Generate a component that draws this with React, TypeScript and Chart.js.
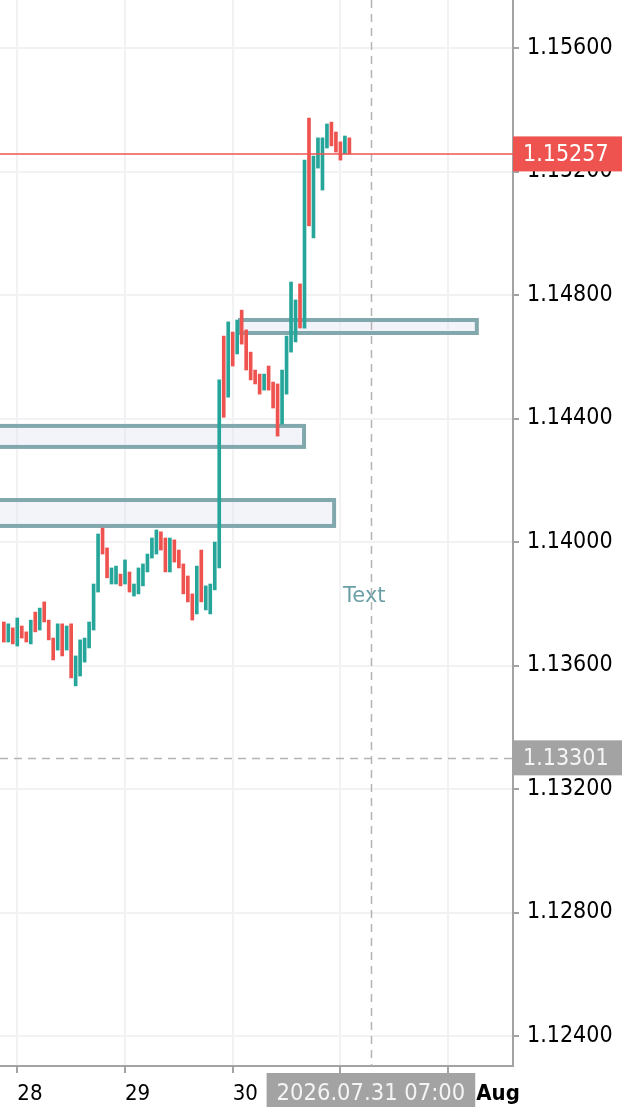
import { useEffect, useRef } from 'react';
import { Chart, registerables } from 'chart.js';

Chart.register(...registerables);

// Hour offsets from 28 July 00:00 (hourly bars)
const barHours = [
  -3, -2, -1, 0, 1, 2, 3, 4, 5, 6, 7, 8, 9, 10, 11, 12, 13, 14, 15, 16, 17, 18, 19, 20, 21, 22, 23,
  24, 25, 26, 27, 28, 29, 30, 31, 32, 33, 34, 35, 36, 37, 38, 39, 40, 41, 42, 43, 44, 45, 46, 47,
  48, 49, 50, 51, 52, 53, 54, 55, 56, 57, 58, 59, 60, 61, 62, 63, 64, 65, 66, 67, 68, 69, 70, 71,
  72, 73, 74,
];

const barLow = [
  1.13676, 1.13676, 1.1367, 1.13663, 1.13689, 1.13676, 1.1367, 1.13709, 1.13715, 1.13741, 1.13683,
  1.13618, 1.1365, 1.13631, 1.1365, 1.1356, 1.13534, 1.13566, 1.13611, 1.13657, 1.13715, 1.13838,
  1.13961, 1.13884, 1.13864, 1.13864, 1.13858, 1.13864, 1.13838, 1.13825, 1.13832, 1.13858, 1.13903,
  1.13948, 1.13961, 1.13974, 1.13903, 1.13903, 1.13935, 1.13916, 1.13832, 1.13806, 1.13747, 1.13767,
  1.13806, 1.1378, 1.13767, 1.13845, 1.13916, 1.14404, 1.14469, 1.1457, 1.14609, 1.14641, 1.14557,
  1.14525, 1.14512, 1.14479, 1.14492, 1.14492, 1.14434, 1.14343, 1.14382, 1.14479, 1.14615, 1.14648,
  1.14693, 1.14693, 1.15024, 1.14985, 1.15211, 1.1514, 1.15276, 1.15283, 1.15263, 1.15237, 1.15257,
  1.15257,
];

const barHigh = [
  1.13741, 1.13735, 1.13722, 1.13754, 1.13728, 1.13709, 1.13747, 1.13773, 1.13786, 1.13806, 1.13747,
  1.13689, 1.13735, 1.13735, 1.13728, 1.13735, 1.13631, 1.13683, 1.13689, 1.13741, 1.13864, 1.14026,
  1.14045, 1.13981, 1.13916, 1.13922, 1.13896, 1.13942, 1.13903, 1.13864, 1.13916, 1.13929, 1.13961,
  1.14013, 1.14039, 1.14033, 1.14013, 1.14013, 1.14007, 1.13974, 1.13929, 1.1389, 1.13832, 1.13922,
  1.13974, 1.13858, 1.13864, 1.14, 1.14525, 1.14667, 1.14713, 1.1468, 1.14719, 1.14751, 1.14687,
  1.14615, 1.14557, 1.14544, 1.14544, 1.1457, 1.14518, 1.14512, 1.14557, 1.14667, 1.14842, 1.14784,
  1.14836, 1.15237, 1.15373, 1.1525, 1.15309, 1.15309, 1.15354, 1.1536, 1.15328, 1.15296, 1.15315,
  1.15309,
];

// 1 = rising bar (green), 0 = falling bar (red)
const barUp = [
  0, 1, 0, 1, 0, 0, 1, 0, 1, 0, 0, 0, 1, 0, 1, 0, 1, 1, 1, 1, 1, 1, 0, 0, 1, 1, 0, 1, 0, 1, 1, 1, 1,
  1, 1, 0, 0, 1, 0, 0, 0, 0, 0, 1, 0, 1, 1, 1, 1, 0, 1, 0, 1, 0, 0, 0, 0, 0, 1, 0, 0, 0, 1, 1, 1, 1,
  0, 1, 0, 1, 1, 1, 1, 0, 0, 0, 1, 0,
];

// Day axis
const dayTicks = [0, 24, 48, 72, 96];
const dayLabels = ['28', '29', '30', '', ''];
const monthLabel = 'Aug';

// Price axis
const priceMin = 1.123029;
const priceMax = 1.157555;
const priceStep = 0.004;
const hourMin = -3.855;
const hourMax = 110.46;

// Rectangle zones
const zoneFrom = [49.63, -10, -10];
const zoneTo = [102.4, 63.9, 70.6];
const zoneHigh = [1.14719, 1.14376, 1.14136];
const zoneLow = [1.14677, 1.14308, 1.14052];

// Markers
const lastPrice = 1.15257;
const crossPrice = 1.13301;
const crossHour = 78.8;
const crossTimeLabel = '2026.07.31 07:00';
const noteText = 'Text';
const noteHour = 72.6;
const notePrice = 1.13806;

const GREEN = '#26a69a';
const RED = '#ef5350';
const GRID = '#f2f2f5';
const AXIS = '#a3a3a3';
const FAM = "'DejaVu Sans Condensed', 'DejaVu Sans', sans-serif";

const overlayPlugin = {
  id: 'overlay',
  beforeDatasetsDraw(chart: any) {
    const { ctx, chartArea: a, scales } = chart;
    const x = scales.x;
    const y = scales.y;
    ctx.save();
    ctx.beginPath();
    ctx.rect(a.left, a.top, a.right - a.left, a.bottom - a.top);
    ctx.clip();
    for (let i = 0; i < zoneFrom.length; i++) {
      const x1 = x.getPixelForValue(zoneFrom[i]);
      const x2 = x.getPixelForValue(zoneTo[i]);
      const y1 = y.getPixelForValue(zoneHigh[i]);
      const y2 = y.getPixelForValue(zoneLow[i]);
      ctx.fillStyle = 'rgba(225,225,242,0.4)';
      ctx.fillRect(x1, y1, x2 - x1, y2 - y1);
      ctx.strokeStyle = '#80a8ad';
      ctx.lineWidth = 4;
      ctx.strokeRect(x1, y1, x2 - x1, y2 - y1);
    }
    ctx.restore();
  },
  afterDatasetsDraw(chart: any) {
    const { ctx, chartArea: a, scales } = chart;
    const x = scales.x;
    const y = scales.y;
    ctx.save();
    ctx.beginPath();
    ctx.rect(a.left, a.top, a.right - a.left, a.bottom - a.top);
    ctx.clip();
    // note text
    ctx.fillStyle = '#6a9fa6';
    ctx.font = `21px 'DejaVu Sans', sans-serif`;
    ctx.textBaseline = 'alphabetic';
    ctx.textAlign = 'left';
    ctx.fillText(noteText, x.getPixelForValue(noteHour), y.getPixelForValue(notePrice));
    // crosshair
    ctx.strokeStyle = '#b4b4b4';
    ctx.lineWidth = 1.5;
    ctx.setLineDash([8, 6]);
    const cx = Math.round(x.getPixelForValue(crossHour)) + 0.5;
    const cy = Math.round(y.getPixelForValue(crossPrice)) + 0.5;
    ctx.beginPath();
    ctx.moveTo(cx, a.top);
    ctx.lineTo(cx, a.bottom);
    ctx.moveTo(a.left, cy);
    ctx.lineTo(a.right, cy);
    ctx.stroke();
    ctx.setLineDash([]);
    // last price line
    const py = y.getPixelForValue(lastPrice);
    ctx.strokeStyle = RED;
    ctx.lineWidth = 1.5;
    ctx.beginPath();
    ctx.moveTo(a.left, py);
    ctx.lineTo(a.right, py);
    ctx.stroke();
    ctx.restore();
  },
  afterDraw(chart: any) {
    const { ctx, chartArea: a, scales } = chart;
    const x = scales.x;
    const y = scales.y;
    ctx.save();
    ctx.font = `23px ${FAM}`;
    ctx.textBaseline = 'middle';
    ctx.textAlign = 'left';
    const boxW = chart.width - a.right - 2;
    // last price label
    const py = y.getPixelForValue(lastPrice);
    ctx.fillStyle = RED;
    ctx.fillRect(a.right, py - 17.5, boxW, 35);
    ctx.fillStyle = '#ffffff';
    ctx.fillText(lastPrice.toFixed(5), a.right + 10, py + 1);
    // crosshair price label
    const cy = y.getPixelForValue(crossPrice);
    ctx.fillStyle = '#a3a3a3';
    ctx.fillRect(a.right, cy - 17.5, boxW, 35);
    ctx.fillStyle = '#f4f4f4';
    ctx.fillText(crossPrice.toFixed(5), a.right + 10, cy + 1);
    // crosshair time label
    const cx = x.getPixelForValue(crossHour);
    ctx.textBaseline = 'alphabetic';
    ctx.font = `23.5px ${FAM}`;
    const tw = ctx.measureText(crossTimeLabel).width;
    const bw = tw + 20;
    const bx = cx - bw / 2;
    ctx.fillStyle = '#a3a3a3';
    ctx.fillRect(bx, a.bottom + 7, bw, 34);
    ctx.fillStyle = '#f4f4f4';
    ctx.fillText(crossTimeLabel, bx + 10, a.bottom + 34);
    // month label after the time box
    ctx.font = `bold 22px ${FAM}`;
    ctx.fillStyle = '#000000';
    ctx.fillText(monthLabel, bx + bw + 1, a.bottom + 34);
    ctx.restore();
  },
};

export default function App() {
  const ref = useRef<HTMLCanvasElement | null>(null);
  useEffect(() => {
    if (!ref.current) return;
    const data = barHours.map((h, i) => ({ x: h, y: [barLow[i], barHigh[i]] }));
    const colors = barUp.map((u) => (u ? GREEN : RED));
    const chart = new Chart(ref.current, {
      type: 'bar',
      data: {
        datasets: [
          {
            data: data as any,
            backgroundColor: colors,
            borderWidth: 0,
            barThickness: 3,
          } as any,
        ],
      },
      plugins: [overlayPlugin],
      options: {
        animation: false,
        responsive: false,
        devicePixelRatio: 1,
        layout: { padding: 0, autoPadding: false } as any,
        plugins: { legend: { display: false }, tooltip: { enabled: false } },
        scales: {
          x: {
            type: 'linear',
            min: hourMin,
            max: hourMax,
            offset: false,
            grid: {
              offset: false,
              color: GRID,
              lineWidth: 2,
              drawTicks: true,
              tickLength: 7,
              tickColor: AXIS,
              tickWidth: 2,
            } as any,
            border: { color: AXIS, width: 2 },
            afterBuildTicks: (scale: any) => {
              scale.ticks = dayTicks.map((v) => ({ value: v }));
            },
            afterFit: (scale: any) => {
              scale.height = 48;
              scale.paddingLeft = 0;
              scale.paddingRight = 0;
              scale.paddingTop = 0;
              scale.paddingBottom = 0;
            },
            ticks: {
              autoSkip: false,
              maxRotation: 0,
              minRotation: 0,
              align: 'start',
              padding: 8,
              color: '#000000',
              font: { family: FAM, size: 22 },
              callback: (_v: any, i: number) => dayLabels[i],
            },
          },
          y: {
            type: 'linear',
            position: 'right',
            min: priceMin,
            max: priceMax,
            grid: {
              color: GRID,
              lineWidth: 2,
              drawTicks: true,
              tickLength: 6,
              tickColor: AXIS,
              tickWidth: 2,
            } as any,
            border: { color: AXIS, width: 2 },
            afterFit: (scale: any) => {
              scale.width = 111;
              scale.paddingLeft = 0;
              scale.paddingRight = 0;
              scale.paddingTop = 0;
              scale.paddingBottom = 0;
            },
            ticks: {
              stepSize: priceStep,
              includeBounds: false,
              autoSkip: false,
              padding: 8,
              color: '#000000',
              font: { family: FAM, size: 23 },
              callback: (v: any) => Number(v).toFixed(5),
            } as any,
          },
        },
      },
    });
    return () => chart.destroy();
  }, []);
  return (
    <div style={{ position: 'fixed', left: 0, top: 0, width: 624, height: 1114, background: '#ffffff' }}>
      <canvas ref={ref} width={624} height={1114} style={{ width: 624, height: 1114, display: 'block' }} />
    </div>
  );
}
